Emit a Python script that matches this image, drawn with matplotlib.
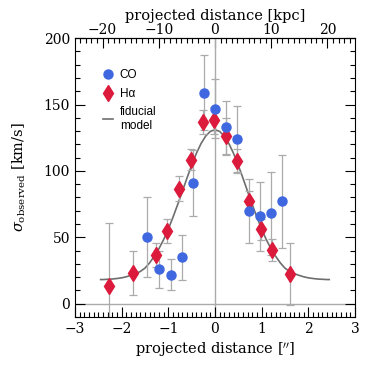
import matplotlib
matplotlib.use("Agg")
import matplotlib.pyplot as plt
from matplotlib.ticker import MultipleLocator, FixedLocator

# CO measurements (blue circles)
co_x = [-1.45, -1.19, -0.94, -0.71, -0.47, -0.23, 0.01, 0.24, 0.48, 0.74, 0.97, 1.21, 1.44]
co_y = [50, 26, 22, 35, 91, 159, 147, 133, 124, 70, 66, 68, 77]
co_err = [30, 14, 12, 17, 25, 28, 22, 20, 25, 24, 26, 31, 35]

# H-alpha measurements (red diamonds)
ha_x = [-2.27, -1.76, -1.27, -1.02, -0.76, -0.52, -0.26, -0.02, 0.23, 0.48, 0.74, 0.98, 1.23, 1.61]
ha_y = [13.5, 23, 36.6, 54.6, 86.5, 108.5, 137, 138, 126, 107.5, 77, 56, 40.5, 22.5]
ha_err = [47, 16.5, 9, 9, 9.5, 8, 9, 10, 14, 9, 8, 8, 8, 23.5]

# fiducial model curve
model_x = [-2.45, -2.4, -2.3, -2.2, -2.1, -2.0, -1.9, -1.8, -1.7, -1.6, -1.5, -1.4, -1.3, -1.2,
           -1.1, -1.0, -0.9, -0.8, -0.7, -0.6, -0.5, -0.4, -0.3, -0.2, -0.1, 0.0,
           0.1, 0.2, 0.3, 0.4, 0.5, 0.6, 0.7, 0.8, 0.9, 1.0, 1.1, 1.2, 1.3, 1.4,
           1.5, 1.6, 1.7, 1.8, 1.9, 2.0, 2.1, 2.2, 2.3, 2.4, 2.45]
model_y = [18.2, 18.2, 18.4, 18.6, 19.0, 19.5, 20.3, 21.4, 22.6, 24.3, 26.8, 30.8, 35.8, 41.5,
           48.3, 56.2, 65.1, 74.6, 84.5, 94.6, 104.2, 113.1, 120.5, 126.2, 129.8, 131.0,
           129.8, 126.2, 120.5, 113.1, 104.2, 94.6, 84.5, 74.6, 65.1, 56.2, 48.3, 41.5, 35.8, 30.8,
           26.8, 24.3, 22.6, 21.4, 20.3, 19.5, 19.0, 18.6, 18.4, 18.2, 18.2]

kpc_ticks = [-20, -10, 0, 10, 20]
kpc_per_arcsec = 8.3

plt.rcParams['font.family'] = "DejaVu Serif"
plt.rcParams['mathtext.fontset'] = 'dejavuserif'

fig = plt.figure(figsize=(3.74, 3.74), dpi=100)
ax = fig.add_axes([0.2005, 0.1524, 0.7485, 0.7456])

gray = '#ababab'
ax.axvline(0, color=gray, lw=1.0, zorder=1)
ax.axhline(0, color=gray, lw=1.0, zorder=1)

ax.plot(model_x, model_y, color='#6e6e6e', lw=1.2, zorder=2, label='fiducial\nmodel')

ax.errorbar(co_x, co_y, yerr=co_err, fmt='none', ecolor=gray, elinewidth=0.9,
            capsize=3, capthick=0.9, zorder=3)
ax.errorbar(ha_x, ha_y, yerr=ha_err, fmt='none', ecolor=gray, elinewidth=0.9,
            capsize=3, capthick=0.9, zorder=3)

ax.plot(ha_x, ha_y, linestyle='none', marker='d', markersize=8, markerfacecolor='#dc1a3c',
        markeredgecolor='#dc1a3c', zorder=4, label='H\u03b1')
ax.plot(co_x, co_y, linestyle='none', marker='o', markersize=6.5, markerfacecolor='#3f67e0',
        markeredgecolor='#3f67e0', zorder=5, label='CO')

ax.set_xlim(-3, 3)
ax.set_ylim(-10, 200)
ax.xaxis.set_major_locator(MultipleLocator(1))
ax.xaxis.set_minor_locator(MultipleLocator(0.1))
ax.yaxis.set_major_locator(MultipleLocator(50))
ax.yaxis.set_minor_locator(MultipleLocator(10))
ax.tick_params(which='both', direction='in', top=False, right=True, labelsize=10, width=0.8)
ax.tick_params(which='major', length=7)
ax.tick_params(which='minor', length=3.5)

ax.set_xlabel('projected distance [$^{\\prime\\prime}$]', fontsize=10.5, labelpad=3)
ax.set_ylabel(r'$\sigma_{\rm observed}$ [km/s]', fontsize=10.5, labelpad=11)

top = ax.secondary_xaxis('top', functions=(lambda x: x * kpc_per_arcsec,
                                           lambda x: x / kpc_per_arcsec))
top.xaxis.set_major_locator(FixedLocator(kpc_ticks))
top.xaxis.set_minor_locator(MultipleLocator(1))
top.tick_params(which='both', direction='in', labelsize=10, width=0.8, pad=1)
top.tick_params(which='major', length=7)
top.tick_params(which='minor', length=3.5)
top.set_xlabel('projected distance [kpc]', fontsize=10.5, labelpad=2)

handles, labels = ax.get_legend_handles_labels()
order = [2, 1, 0]
leg = ax.legend([handles[i] for i in order], [labels[i] for i in order],
                loc='upper left', bbox_to_anchor=(0.08, 0.91), frameon=False,
                handlelength=0.8, handletextpad=0.6, labelspacing=0.55, borderpad=0,
                prop={'family': 'Liberation Sans', 'size': 8.5})

fig.savefig('out.png', dpi=100)
